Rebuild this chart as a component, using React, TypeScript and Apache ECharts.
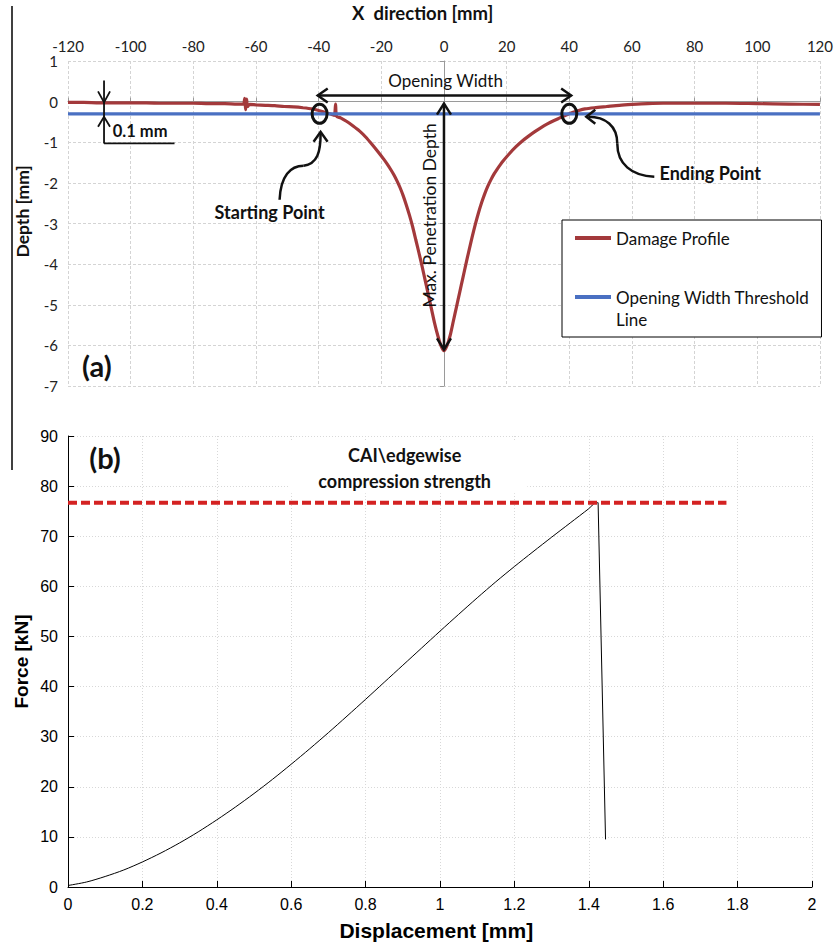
import React, { useEffect, useRef } from 'react';
import * as echarts from 'echarts';

// ---------- (a) damage profile ----------
const profileX = [
  -120, -115, -110, -105, -100, -95, -90, -85, -80, -75, -70, -66, -64, -63.6, -63.3, -63, -62.7, -62,
  -60, -57, -54, -51, -48, -45, -42, -40, -38, -36, -35, -34.6, -34.3, -33, -31, -29, -27, -25, -23,
  -21, -19, -18, -17, -16, -15, -14, -13, -12, -11, -10, -9, -8, -7, -6, -5, -4, -3, -2, -1, 0,
  1, 2, 3, 4, 5, 6, 7, 8, 9, 10, 11, 12, 13, 14, 15, 16, 17, 18, 19, 21, 23, 25, 27, 29, 31, 33, 35, 37, 39,
  41, 43, 45, 48, 52, 56, 60, 65, 70, 80, 90, 100, 110, 120,
];
const profileDepth = [
  -0.02, -0.02, -0.03, -0.03, -0.03, -0.03, -0.04, -0.04, -0.04, -0.05, -0.05, -0.06, -0.06, 0.08, -0.2, 0.06, -0.12, -0.07,
  -0.08, -0.09, -0.1, -0.12, -0.13, -0.15, -0.18, -0.22, -0.26, -0.31, -0.34, -0.06, -0.36, -0.4, -0.49, -0.6, -0.72, -0.87, -1.05,
  -1.24, -1.44, -1.55, -1.67, -1.8, -1.95, -2.12, -2.32, -2.55, -2.8, -3.08, -3.4, -3.72, -4.05, -4.4, -4.75, -5.1, -5.45, -5.75, -6.0, -6.13,
  -6.0, -5.75, -5.4, -5.05, -4.7, -4.35, -4.0, -3.66, -3.33, -3.02, -2.74, -2.49, -2.27, -2.08, -1.92, -1.78, -1.66, -1.55, -1.45, -1.27, -1.11, -0.97, -0.85, -0.74, -0.64, -0.55, -0.47, -0.4, -0.33,
  -0.27, -0.22, -0.18, -0.15, -0.12, -0.09, -0.07, -0.05, -0.04, -0.04, -0.04, -0.05, -0.06, -0.07,
];
const thresholdX = [-120, 120];
const thresholdDepth = [-0.3, -0.3];
const xTicksA = { min: -120, max: 120, step: 20 };
const yTicksA = { min: -7, max: 1, step: 1 };

// ---------- (b) force-displacement ----------
const dispX = [
  0, 0.05, 0.1, 0.15, 0.2, 0.25, 0.3, 0.35, 0.4, 0.45, 0.5, 0.55, 0.6, 0.65, 0.7, 0.75, 0.8, 0.85, 0.9,
  0.95, 1.0, 1.05, 1.1, 1.15, 1.2, 1.25, 1.3, 1.35, 1.4, 1.42, 1.425, 1.445,
];
const forceY = [
  0.3, 1.0, 2.1, 3.4, 5.0, 6.8, 8.8, 11.0, 13.4, 15.95, 18.65, 21.5, 24.5, 27.6, 30.8, 34.1, 37.45, 40.85, 44.25,
  47.65, 51.05, 54.4, 57.7, 60.9, 63.95, 66.9, 69.8, 72.65, 75.5, 76.7, 76.7, 9.5,
];
const peakIndex = 30; // last point of the rising branch
const capX = [0, 1.77];
const capForce = [76.7, 76.7];
const xTicksB = { min: 0, max: 2, step: 0.2 };
const yTicksB = { min: 0, max: 90, step: 10 };

const FA = 'Lato, "Open Sans", sans-serif';
const FB = '"Liberation Sans", Arial, sans-serif';
const RED = '#a3393b';
const BLUE = '#4a70c2';

export default function App() {
  const ref = useRef<HTMLDivElement>(null);
  useEffect(() => {
    document.body.style.margin = '0';
    const chart = echarts.init(ref.current!, null, { renderer: 'svg' });
    const gridA = { color: '#d4d4d4', type: [3, 2] as any, width: 1 };
    const gridB = { color: '#d8d8d8', type: [1, 2] as any, width: 1 };
    const forcePts = dispX.map((x, i) => [x, forceY[i]]);
    const option: any = {
      animation: false,
      backgroundColor: '#ffffff',
      grid: [
        { left: 68, right: 15, top: 61, height: 325 },
        { left: 68, right: 24, top: 436, height: 451 },
      ],
      legend: {
        data: ['Damage Profile', 'Opening Width Threshold Line'],
        orient: 'vertical',
        left: 562,
        top: 220,
        padding: [7, 12, 7, 13],
        itemGap: 15,
        itemWidth: 36,
        itemHeight: 4,
        icon: 'rect',
        borderColor: '#000',
        borderWidth: 1,
        borderRadius: 0,
        backgroundColor: '#fff',
        textStyle: { fontFamily: FA, fontSize: 17, color: '#111', lineHeight: 22 },
        formatter: (n: string) =>
          n === 'Opening Width Threshold Line' ? '\u00a0\nOpening Width Threshold\nLine' : n,
      },
      xAxis: [
        {
          gridIndex: 0, type: 'value', min: xTicksA.min, max: xTicksA.max, interval: xTicksA.step,
          position: 'top',
          axisLine: { show: false, onZero: false },
          axisTick: { show: false },
          axisLabel: { fontFamily: FA, fontSize: 15, color: '#222', margin: 8 },
          splitLine: { show: true, lineStyle: gridA },
        },
        {
          gridIndex: 0, type: 'value', min: xTicksA.min, max: xTicksA.max, interval: xTicksA.step,
          position: 'bottom',
          axisLine: { show: true, onZero: true, lineStyle: { color: '#9a9a9a', width: 1 } },
          axisTick: { show: true, inside: true, length: 4, lineStyle: { color: '#9a9a9a' } },
          axisLabel: { show: false },
          splitLine: { show: false },
        },
        {
          gridIndex: 1, type: 'value', min: xTicksB.min, max: xTicksB.max, interval: xTicksB.step,
          position: 'bottom',
          axisLine: { show: true, onZero: false, lineStyle: { color: '#000', width: 1 } },
          axisTick: { show: true, inside: true, length: 6, lineStyle: { color: '#000' } },
          axisLabel: { fontFamily: FB, fontSize: 16, color: '#000', margin: 9 },
          splitLine: { show: true, lineStyle: gridB },
        },
      ],
      yAxis: [
        {
          gridIndex: 0, type: 'value', min: yTicksA.min, max: yTicksA.max, interval: yTicksA.step,
          position: 'left',
          axisLine: { show: false, onZero: false },
          axisTick: { show: false },
          axisLabel: { fontFamily: FA, fontSize: 15, color: '#222', margin: 10 },
          splitLine: { show: true, lineStyle: gridA },
        },
        {
          gridIndex: 0, type: 'value', min: yTicksA.min, max: yTicksA.max, interval: yTicksA.step,
          position: 'left',
          axisLine: { show: true, onZero: true, lineStyle: { color: '#9a9a9a', width: 1 } },
          axisTick: { show: true, length: 4, lineStyle: { color: '#9a9a9a' } },
          axisLabel: { show: false },
          splitLine: { show: false },
        },
        {
          gridIndex: 1, type: 'value', min: yTicksB.min, max: yTicksB.max, interval: yTicksB.step,
          position: 'left',
          axisLine: { show: true, onZero: false, lineStyle: { color: '#000', width: 1 } },
          axisTick: { show: true, inside: true, length: 6, lineStyle: { color: '#000' } },
          axisLabel: { fontFamily: FB, fontSize: 16, color: '#000', margin: 10 },
          splitLine: { show: true, lineStyle: gridB },
        },
      ],
      series: [
        {
          name: 'Damage Profile', type: 'line', xAxisIndex: 0, yAxisIndex: 0,
          data: profileX.map((x, i) => [x, profileDepth[i]]),
          symbol: 'none', showSymbol: false, color: RED, smooth: 0.25,
          lineStyle: { color: RED, width: 3.2 }, z: 3,
        },
        {
          name: 'Opening Width Threshold Line', type: 'line', xAxisIndex: 0, yAxisIndex: 0,
          data: thresholdX.map((x, i) => [x, thresholdDepth[i]]),
          symbol: 'none', showSymbol: false, color: BLUE,
          lineStyle: { color: BLUE, width: 3.2 }, z: 4,
        },
        {
          name: 'Force', type: 'line', xAxisIndex: 2, yAxisIndex: 2,
          data: forcePts.slice(0, peakIndex + 1),
          symbol: 'none', showSymbol: false, color: '#000', smooth: 0.3,
          lineStyle: { color: '#000', width: 1 }, z: 3,
        },
        {
          name: 'Force drop', type: 'line', xAxisIndex: 2, yAxisIndex: 2,
          data: forcePts.slice(peakIndex),
          symbol: 'none', showSymbol: false, color: '#000',
          lineStyle: { color: '#000', width: 1 }, z: 3,
        },
        {
          name: 'CAI edgewise compression strength', type: 'line', xAxisIndex: 2, yAxisIndex: 2,
          data: capX.map((x, i) => [x, capForce[i]]),
          symbol: 'none', showSymbol: false, color: '#d42222',
          lineStyle: { color: '#d42222', width: 4, type: [9, 4] }, z: 4,
        },
      ],
    };
    chart.setOption(option);

    const pa = (x: number, y: number) =>
      chart.convertToPixel({ xAxisIndex: 0, yAxisIndex: 0 } as any, [x, y]) as number[];
    const pb = (x: number, y: number) =>
      chart.convertToPixel({ xAxisIndex: 2, yAxisIndex: 2 } as any, [x, y]) as number[];

    const K = '#111';
    const line = (a: number[], b: number[], w = 2.5) => ({
      type: 'line', silent: true, z: 50,
      shape: { x1: a[0], y1: a[1], x2: b[0], y2: b[1] },
      style: { stroke: K, lineWidth: w },
    });
    const poly = (pts: number[][], w = 2.5) => ({
      type: 'polyline', silent: true, z: 50,
      shape: { points: pts },
      style: { stroke: K, lineWidth: w, fill: 'none' },
    });
    const bez = (p1: number[], c1: number[], c2: number[], p2: number[], w = 2.5) => ({
      type: 'bezierCurve', silent: true, z: 50,
      shape: { x1: p1[0], y1: p1[1], cpx1: c1[0], cpy1: c1[1], cpx2: c2[0], cpy2: c2[1], x2: p2[0], y2: p2[1] },
      style: { stroke: K, lineWidth: w, fill: 'none' },
    });
    const text = (t: string, x: number, y: number, font: string, rot = 0, fill = K) => ({
      type: 'text', silent: true, z: 60, x, y, rotation: rot,
      style: {
        text: t, x: 0, y: 0, font, fill,
        textAlign: 'center', textVerticalAlign: 'middle', align: 'center', verticalAlign: 'middle',
      },
    });
    const off = (p: number[], dx: number, dy: number) => [p[0] + dx, p[1] + dy];

    const owL = pa(-40.3, 0.15);
    const owR = pa(40.6, 0.15);
    const mpT = pa(0, -0.05);
    const mpB = pa(0, -6.1);
    const S = pa(-39.7, -0.3);
    const E = pa(40, -0.3);
    const mTop = pa(-108.5, 0.52);
    const mBot = pa(-108.5, -1.03);
    const mEnd = pa(-86, -1.03);
    const mRed = pa(-108.5, -0.02);
    const mBlue = pa(-108.5, -0.3);

    const boxL = pb(0.595, 0)[0];
    const boxR = pb(1.235, 0)[0];
    const boxT = pb(0, 89.2)[1];
    const boxB = pb(0, 78.6)[1];
    const cai = pb(0.905, 0)[0];

    const graphic: any[] = [
      { type: 'line', silent: true, z: 50, shape: { x1: 12, y1: 6, x2: 12, y2: 470 }, style: { stroke: '#000', lineWidth: 1.5 } },
      text('X  direction [mm]', pa(-6.8, 0)[0], 13, `bold 18.5px ${FA}`),
      text('Depth [mm]', 22, pa(0, -2.7)[1], `bold 17.5px ${FA}`, Math.PI / 2),
      text('(a)', pa(-110.8, -6.5)[0], pa(-110.8, -6.5)[1], `bold 29px ${FA}`),
      line(owL, owR),
      poly([off(owL, 10, -7), owL, off(owL, 10, 7)]),
      poly([off(owR, -10, -7), owR, off(owR, -10, 7)]),
      text('Opening Width', pa(0.5, 0.52)[0], pa(0.5, 0.52)[1], `17px ${FA}`),
      line(mpT, mpB),
      poly([off(mpT, -7, 11), mpT, off(mpT, 7, 11)]),
      poly([off(mpB, -7, -11), mpB, off(mpB, 7, -11)]),
      text('Max. Penetration Depth', pa(-4.5, -2.8)[0], pa(-4.5, -2.8)[1], `17.5px ${FA}`, Math.PI / 2),
      { type: 'ellipse', silent: true, z: 55, shape: { cx: S[0], cy: S[1], rx: 7.5, ry: 9.5 }, style: { stroke: K, lineWidth: 3, fill: 'none' } },
      { type: 'ellipse', silent: true, z: 55, shape: { cx: E[0], cy: E[1], rx: 7.5, ry: 9.5 }, style: { stroke: K, lineWidth: 3, fill: 'none' } },
      bez(off(S, -40, 86), off(S, -39, 62), off(S, -29, 52), off(S, -16, 52)),
      bez(off(S, -16, 52), off(S, -2, 50), off(S, 1, 38), off(S, 1, 20)),
      poly([off(S, -6, 28), off(S, 1, 18), off(S, 8, 28)]),
      text('Starting Point', S[0] - 50, S[1] + 98, `bold 18px ${FA}`),
      bez(off(E, 85, 63), off(E, 62, 62), off(E, 48, 50), off(E, 48, 30)),
      bez(off(E, 48, 30), off(E, 48, 12), off(E, 36, 3), off(E, 19, 3)),
      poly([off(E, 26, -4), off(E, 17, 3), off(E, 26, 10)]),
      text('Ending Point', E[0] + 141, E[1] + 59, `bold 18px ${FA}`),
      line(mTop, mBot, 1.8),
      line(mBot, mEnd, 1.8),
      poly([off(mRed, -6, -11), off(mRed, 0, 0), off(mRed, 6, -11)], 1.8),
      poly([off(mBlue, -6, 13), off(mBlue, 0, 3), off(mBlue, 6, 13)], 1.8),
      {
        type: 'text', silent: true, z: 60, x: pa(-105.7, 0)[0], y: pa(0, -0.72)[1],
        style: { text: '0.1 mm', x: 0, y: 0, font: `bold 16.5px ${FA}`, fill: K, textAlign: 'left', align: 'left', textVerticalAlign: 'middle', verticalAlign: 'middle' },
      },
      { type: 'rect', silent: true, z: 40, shape: { x: boxL, y: boxT, width: boxR - boxL, height: boxB - boxT }, style: { fill: '#fff' } },
      text('CAI\\edgewise', cai, 455, `bold 18px ${FA}`),
      text('compression strength', cai, 481, `bold 18px ${FA}`),
      text('(b)', 105, 457, `bold 29px ${FA}`),
      text('Force [kN]', 21, pb(0, 45)[1], `bold 19px ${FB}`, Math.PI / 2, '#000'),
      text('Displacement [mm]', pb(0.99, 0)[0], 930, `bold 21px ${FB}`, 0, '#000'),
    ];
    chart.setOption({ graphic });
    return () => chart.dispose();
  }, []);
  return <div ref={ref} style={{ width: 836, height: 947 }} />;
}
